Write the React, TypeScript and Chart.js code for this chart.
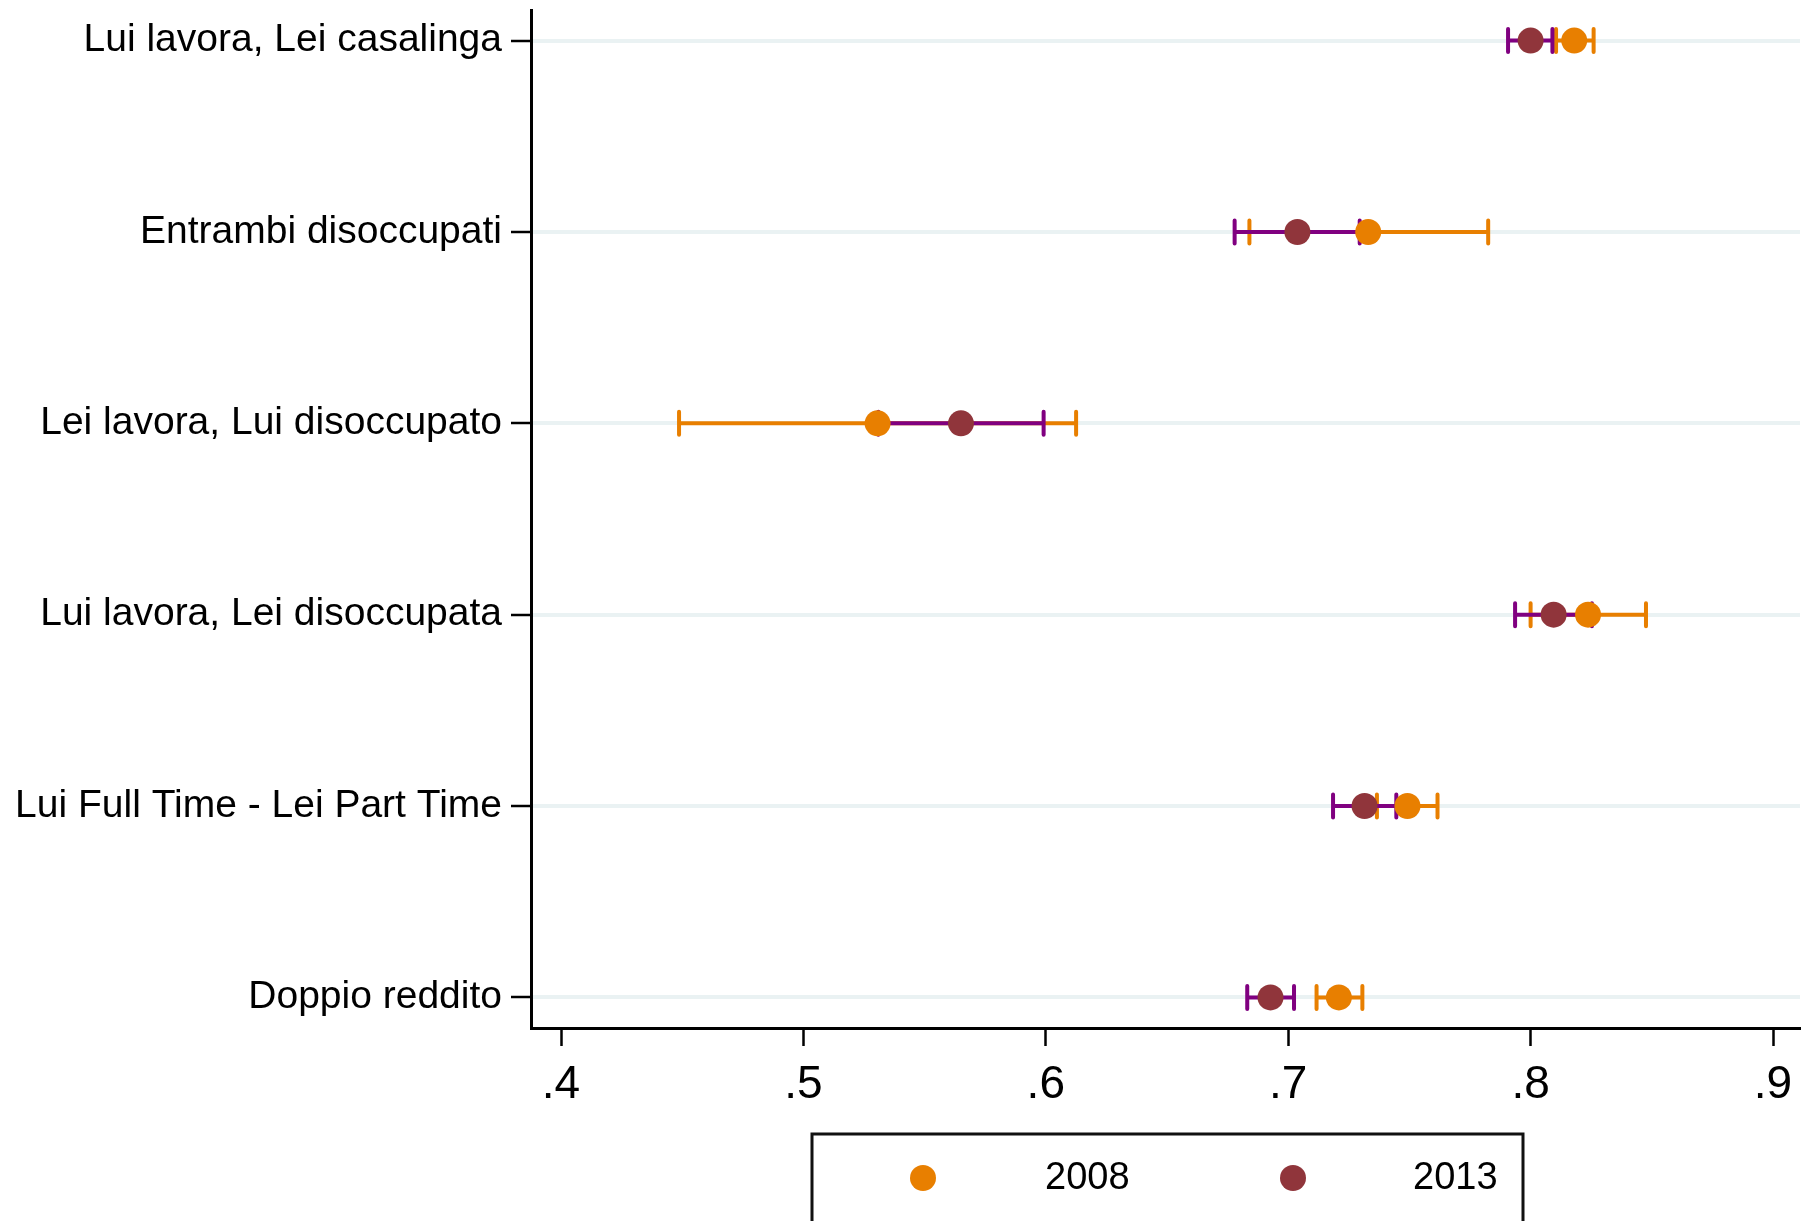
import React, { useEffect, useRef } from 'react';
import { Chart, registerables } from 'chart.js';

Chart.register(...registerables);

// ---- Data ----
const CATEGORIES = [
  'Lui lavora, Lei casalinga',
  'Entrambi disoccupati',
  'Lei lavora, Lui disoccupato',
  'Lui lavora, Lei disoccupata',
  'Lui Full Time - Lei Part Time',
  'Doppio reddito',
];
const SERIES_LABELS = ['2008', '2013'];

const EST_2008 = [0.818, 0.733, 0.5306, 0.8237, 0.7492, 0.7209];
const LO_2008 = [0.8105, 0.684, 0.4487, 0.8, 0.7366, 0.7117];
const HI_2008 = [0.826, 0.7825, 0.6125, 0.8476, 0.7616, 0.7306];

const EST_2013 = [0.8, 0.7038, 0.565, 0.8095, 0.7315, 0.6927];
const LO_2013 = [0.7907, 0.6779, 0.5309, 0.7936, 0.7185, 0.6831];
const HI_2013 = [0.809, 0.7295, 0.5991, 0.8253, 0.7446, 0.7024];

const X_TICKS = [0.4, 0.5, 0.6, 0.7, 0.8, 0.9];
const X_TICK_LABELS = ['.4', '.5', '.6', '.7', '.8', '.9'];

// ---- Styles ----
const ORANGE = '#E87F00';
const CRANBERRY = '#90353B';
const PURPLE = '#800080';
const GRID = '#EAF2F3';
const FONT = "'Liberation Sans', Arial, Helvetica, sans-serif";

const errorBarPlugin = {
  id: 'errorBars',
  beforeDatasetsDraw(chart: any) {
    const { ctx, scales } = chart;
    const xs = scales.x;
    const ys = scales.y;
    ctx.save();
    chart.data.datasets.forEach((ds: any) => {
      ctx.strokeStyle = ds.barColor;
      ctx.lineWidth = 4;
      ds.data.forEach((pt: any, i: number) => {
        const y = ys.getPixelForValue(pt.y);
        const x1 = xs.getPixelForValue(ds.lo[i]);
        const x2 = xs.getPixelForValue(ds.hi[i]);
        ctx.lineCap = 'butt';
        ctx.beginPath();
        ctx.moveTo(x1, y);
        ctx.lineTo(x2, y);
        ctx.stroke();
        ctx.lineCap = 'round';
        ctx.beginPath();
        ctx.moveTo(x1, y - 11.5);
        ctx.lineTo(x1, y + 11.5);
        ctx.moveTo(x2, y - 11.5);
        ctx.lineTo(x2, y + 11.5);
        ctx.stroke();
      });
    });
    ctx.restore();
  },
};

const legendPlugin = {
  id: 'boxLegend',
  afterDraw(chart: any) {
    const { ctx } = chart;
    ctx.save();
    const left = 812;
    const top = 1134;
    const right = 1523;
    const bottom = 1280;
    ctx.strokeStyle = '#111';
    ctx.lineWidth = 3;
    ctx.beginPath();
    ctx.moveTo(left, bottom);
    ctx.lineTo(left, top);
    ctx.lineTo(right, top);
    ctx.lineTo(right, bottom);
    ctx.stroke();
    const cy = 1178;
    const dotX = [923, 1293];
    const textX = [1045, 1413];
    const ds = chart.data.datasets;
    [0, 1].forEach((k) => {
      const d = ds.find((q: any) => q.label === SERIES_LABELS[k]);
      ctx.fillStyle = d.backgroundColor;
      ctx.beginPath();
      ctx.arc(dotX[k], cy, 13, 0, Math.PI * 2);
      ctx.fill();
      ctx.fillStyle = '#000';
      ctx.font = `38px ${FONT}`;
      ctx.textAlign = 'left';
      ctx.textBaseline = 'middle';
      ctx.fillText(d.label, textX[k], cy + 1);
    });
    ctx.restore();
  },
};

export default function App() {
  const canvasRef = useRef<HTMLCanvasElement | null>(null);

  useEffect(() => {
    if (!canvasRef.current) return;
    const mk = (est: number[]) => est.map((v, i) => ({ x: v, y: i }));
    const chart = new Chart(canvasRef.current, {
      type: 'scatter',
      data: {
        datasets: [
          {
            label: SERIES_LABELS[0],
            data: mk(EST_2008),
            backgroundColor: ORANGE,
            borderWidth: 0,
            pointRadius: 13,
            order: 1,
            lo: LO_2008,
            hi: HI_2008,
            barColor: ORANGE,
          } as any,
          {
            label: SERIES_LABELS[1],
            data: mk(EST_2013),
            backgroundColor: CRANBERRY,
            borderWidth: 0,
            pointRadius: 13,
            order: 0,
            lo: LO_2013,
            hi: HI_2013,
            barColor: PURPLE,
          } as any,
        ],
      },
      options: {
        animation: false,
        responsive: false,
        devicePixelRatio: 1,
        layout: { autoPadding: false, padding: { top: 10, right: 2, left: 0, bottom: 0 } },
        plugins: {
          legend: { display: false },
          tooltip: { enabled: false },
        },
        scales: {
          x: {
            type: 'linear',
            position: 'bottom',
            min: 0.4 - 30 / 2424,
            max: 0.9 + 27 / 2424,
            afterBuildTicks: (scale: any) => {
              scale.ticks = X_TICKS.map((v) => ({ value: v }));
            },
            afterFit: (scale: any) => {
              scale.height = 193;
              scale.paddingLeft = 0;
              scale.paddingRight = 0;
            },
            ticks: {
              callback: (v: any) => {
                const idx = X_TICKS.findIndex((t) => Math.abs(t - v) < 1e-9);
                return idx >= 0 ? X_TICK_LABELS[idx] : '';
              },
              font: { size: 46, family: FONT },
              color: '#000',
              padding: 12,
              maxRotation: 0,
              autoSkip: false,
            },
            grid: {
              drawOnChartArea: false,
              drawTicks: true,
              tickLength: 18,
              tickColor: '#000',
              tickWidth: 2.5,
            },
            border: { display: true, color: '#000', width: 3 },
          },
          y: {
            type: 'linear',
            position: 'left',
            reverse: true,
            min: -0.16,
            max: CATEGORIES.length - 1 + 0.16,
            afterBuildTicks: (scale: any) => {
              scale.ticks = CATEGORIES.map((_, i) => ({ value: i }));
            },
            afterFit: (scale: any) => {
              scale.width = 531;
              scale.paddingTop = 0;
              scale.paddingBottom = 0;
            },
            ticks: {
              callback: (v: any) => CATEGORIES[Math.round(v)] ?? '',
              font: { size: 39, family: FONT },
              color: '#000',
              padding: 9,
              autoSkip: false,
            },
            grid: {
              drawOnChartArea: true,
              color: GRID,
              lineWidth: 4,
              drawTicks: true,
              tickLength: 20,
              tickColor: '#000',
              tickWidth: 2.5,
            },
            border: { display: true, color: '#000', width: 3 },
          },
        },
      } as any,
      plugins: [errorBarPlugin, legendPlugin],
    });
    return () => chart.destroy();
  }, []);

  return (
    <div style={{ position: 'absolute', left: 0, top: 0, width: 1802, height: 1221, background: '#fff' }}>
      <canvas ref={canvasRef} width={1802} height={1221} />
    </div>
  );
}
